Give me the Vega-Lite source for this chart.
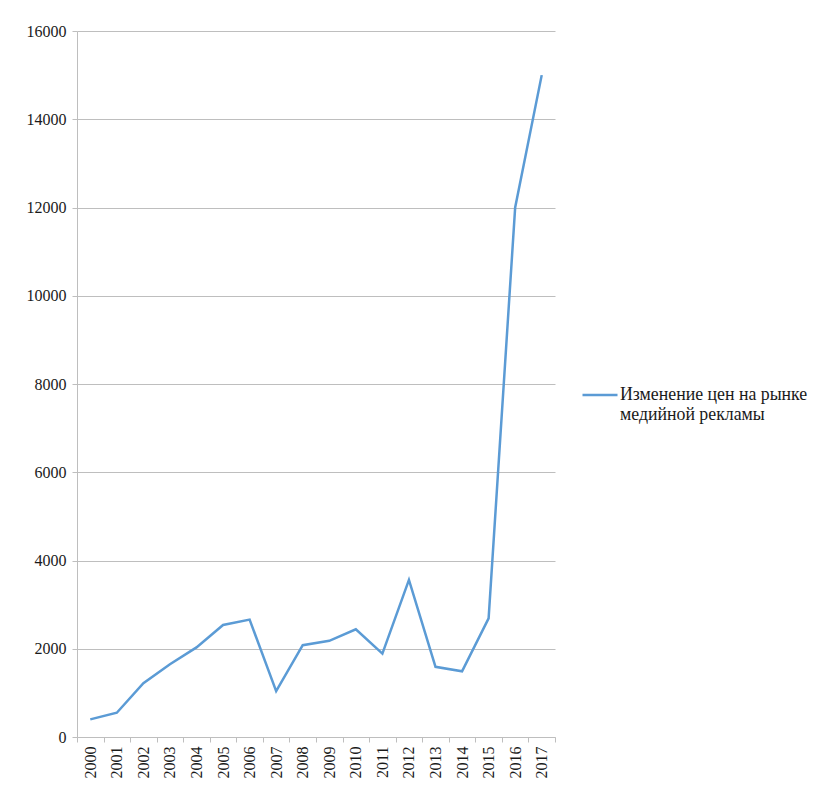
{
  "$schema": "https://vega.github.io/schema/vega-lite/v6.json",
  "autosize": {"type": "none"},
  "padding": {"left": 77, "top": 31, "right": 267, "bottom": 52},
  "width": 478,
  "height": 706,
  "background": "white",
  "config": {
    "view": {"stroke": null},
    "font": "Liberation Serif",
    "axis": {
      "labelFont": "Liberation Serif",
      "labelFontSize": 16,
      "labelColor": "#1a1a1a",
      "domainColor": "#BEBEBE",
      "tickColor": "#BEBEBE",
      "gridColor": "#BEBEBE",
      "domainWidth": 1,
      "tickSize": 5,
      "title": null
    }
  },
  "data": {
    "values": [
      {"year": "2000", "value": 400, "series": "s"},
      {"year": "2001", "value": 550, "series": "s"},
      {"year": "2002", "value": 1220, "series": "s"},
      {"year": "2003", "value": 1650, "series": "s"},
      {"year": "2004", "value": 2030, "series": "s"},
      {"year": "2005", "value": 2540, "series": "s"},
      {"year": "2006", "value": 2660, "series": "s"},
      {"year": "2007", "value": 1040, "series": "s"},
      {"year": "2008", "value": 2080, "series": "s"},
      {"year": "2009", "value": 2180, "series": "s"},
      {"year": "2010", "value": 2440, "series": "s"},
      {"year": "2011", "value": 1890, "series": "s"},
      {"year": "2012", "value": 3560, "series": "s"},
      {"year": "2013", "value": 1590, "series": "s"},
      {"year": "2014", "value": 1490, "series": "s"},
      {"year": "2015", "value": 2690, "series": "s"},
      {"year": "2016", "value": 12000, "series": "s"},
      {"year": "2017", "value": 15000, "series": "s"}
    ]
  },
  "mark": {"type": "line", "strokeWidth": 2.5},
  "encoding": {
    "x": {
      "field": "year",
      "type": "ordinal",
      "scale": {"type": "band", "paddingInner": 0, "paddingOuter": 0},
      "axis": {"labelAngle": -90, "tickBand": "extent", "grid": false, "labelPadding": 4, "labelBaseline": "middle", "labelFont": "Liberation Serif", "labelFontSize": 16}
    },
    "y": {
      "field": "value",
      "type": "quantitative",
      "scale": {"domain": [0, 16000], "nice": false},
      "axis": {"values": [0, 2000, 4000, 6000, 8000, 10000, 12000, 14000, 16000], "format": "d", "grid": true, "labelPadding": 6, "labelFont": "Liberation Serif", "labelFontSize": 16}
    },
    "color": {
      "field": "series",
      "type": "nominal",
      "scale": {"range": ["#5B9BD5"]},
      "legend": {
        "title": null,
        "orient": "none",
        "legendX": 504,
        "legendY": 345,
        "symbolType": "stroke",
        "symbolSize": 1225,
        "symbolStrokeWidth": 2.5,
        "labelFont": "Liberation Serif",
        "labelFontSize": 17.8,
        "labelColor": "#1a1a1a",
        "labelOffset": 1,
        "labelLimit": 400,
        "labelBaseline": "middle",
        "labelExpr": "['Изменение цен на рынке', 'медийной рекламы']"
      }
    }
  }
}
